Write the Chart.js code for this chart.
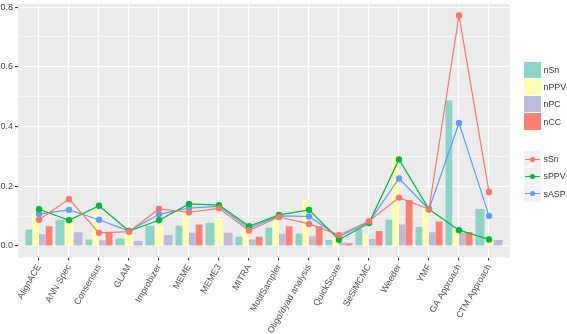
<!DOCTYPE html>
<html>
<head>
<meta charset="utf-8">
<script src="https://cdn.jsdelivr.net/npm/chart.js@4.4.0/dist/chart.umd.min.js"></script>
<style>
  html, body { margin: 0; padding: 0; background: #fff; }
  #wrap { position: relative; width: 567px; height: 334px; }
  .legend { position: absolute; left: 524px; font: 8.8px "Liberation Sans", Arial, sans-serif; color: #333; }
  .item { display: flex; align-items: center; height: 17.3px; }
  .key { position: relative; width: 17px; height: 16.3px; margin-right: 2.5px; }
  .key.line { background: #f2f2f2; }
  .key .ln { position: absolute; left: 1px; right: 1px; top: 7.5px; height: 1.2px; }
  .key .pt { position: absolute; left: 6px; top: 5.6px; width: 5px; height: 5px; border-radius: 50%; }
</style>
</head>
<body>
<div id="wrap">
  <canvas id="myChart" width="567" height="334"></canvas>
  <div class="legend" id="barLegend" style="top:61px"></div>
  <div class="legend" id="lineLegend" style="top:150.5px"></div>
</div>
<script>
const categories = ["AlignACE", "ANN-Spec", "Consensus", "GLAM", "Improbizer", "MEME", "MEME3", "MITRA",
  "MotifSampler", "Oligo/dyad analysis", "QuickScore", "SeSiMCMC", "Weeder", "YMF", "GA Approach", "CTM Approach"];

// nucleotide level (bars)
const nSn  = [0.055, 0.088, 0.022, 0.025, 0.068, 0.068, 0.078, 0.031, 0.061, 0.041, 0.020, 0.057, 0.088, 0.064, 0.487, 0.124];
const nPPV = [0.112, 0.086, 0.117, 0.039, 0.068, 0.110, 0.093, 0.055, 0.097, 0.154, 0.026, 0.039, 0.300, 0.127, 0.052, 0.017];
const nPC  = [0.039, 0.046, 0.019, 0.017, 0.037, 0.044, 0.044, 0.022, 0.041, 0.033, 0.012, 0.024, 0.072, 0.046, 0.044, 0.020];
const nCC  = [0.066, null, 0.044, null, null, 0.072, null, 0.031, 0.066, 0.066, 0.009, 0.050, 0.154, 0.082, 0.047, null];

// site level (lines)
const sSn  = [0.088, 0.157, 0.044, 0.048, 0.124, 0.113, 0.126, 0.052, 0.097, 0.074, 0.037, 0.083, 0.162, 0.123, 0.772, 0.181];
const sPPV = [0.123, 0.086, 0.135, 0.050, 0.086, 0.141, 0.137, 0.066, 0.104, 0.121, 0.021, 0.077, 0.290, 0.123, 0.053, 0.022];
const sASP = [0.107, 0.121, 0.088, 0.050, 0.106, 0.127, 0.133, 0.059, 0.101, 0.099, 0.032, 0.080, 0.226, 0.123, 0.412, 0.101];

const yTicks = [0, 0.1, 0.2, 0.3, 0.4, 0.5, 0.6, 0.7, 0.8];

const barSeries = [
  { label: "nSn", data: nSn, color: "#8DD3C7" },
  { label: "nPPV", data: nPPV, color: "#FFFFB3" },
  { label: "nPC", data: nPC, color: "#BEBADA" },
  { label: "nCC", data: nCC, color: "#FB8072" },
];
const lineSeries = [
  { label: "sSn", data: sSn, color: "#F8766D" },
  { label: "sPPV", data: sPPV, color: "#00BA38" },
  { label: "sASP", data: sASP, color: "#619CFF" },
];

const textColor = "#4D4D4D";
const font = { family: "'Liberation Sans', Arial, sans-serif", size: 9 };

// grey ggplot panel
const panelBg = {
  id: "panelBg",
  beforeDraw(chart) {
    const { ctx, chartArea: a } = chart;
    ctx.save();
    ctx.fillStyle = "#EBEBEB";
    ctx.fillRect(a.left, a.top, a.right - a.left, a.bottom - a.top);
    ctx.restore();
  },
};

const data = {
  labels: categories,
  datasets: [
    ...lineSeries.map((s) => ({
      type: "line",
      label: s.label,
      data: s.data,
      borderColor: s.color,
      backgroundColor: s.color,
      borderWidth: 1.2,
      pointRadius: 2.6,
      pointHoverRadius: 2.6,
      tension: 0,
      order: 1,
    })),
    ...barSeries.map((s) => ({
      type: "bar",
      label: s.label,
      data: s.data,
      backgroundColor: s.color,
      borderWidth: 0,
      barPercentage: 1,
      categoryPercentage: 0.9,
      skipNull: true,
      order: 2,
    })),
  ],
};

const config = {
  data: data,
  plugins: [panelBg],
  options: {
    responsive: false,
    animation: false,
    layout: { padding: { left: 0, top: 0, right: 57, bottom: 0 } },
    plugins: {
      legend: { display: false },
      tooltip: { enabled: false },
    },
    scales: {
      x: {
        type: "category",
        offset: true,
        border: { display: false },
        grid: {
          offset: false,
          color: "#FFFFFF",
          lineWidth: 1.1,
          tickColor: "#333333",
          tickLength: 3,
        },
        ticks: {
          color: textColor,
          font: font,
          autoSkip: false,
          minRotation: 60,
          maxRotation: 60,
          padding: 2,
        },
        afterBuildTicks: (scale) => {
          // ggplot discrete axis expands 0.6 units each side instead of 0.5
          if (!scale._expanded) {
            const base = scale.configure;
            scale.configure = function () {
              base.call(this);
              this._startValue -= 0.1;
              this._valueRange += 0.2;
            };
            scale._expanded = true;
          }
        },
        afterFit: (scale) => {
          scale.height = 76.5;
          scale.paddingLeft = 0;
          scale.paddingRight = 0;
        },
      },
      y: {
        min: -0.0385,
        max: 0.811,
        border: { display: false },
        afterBuildTicks: (scale) => {
          scale.ticks = yTicks.map((v) => ({ value: v }));
        },
        grid: {
          color: "#FFFFFF",
          lineWidth: (ctx) => (ctx.index % 2 === 0 ? 1.1 : 0.55),
          tickColor: (ctx) => (ctx.index % 2 === 0 ? "#333333" : "rgba(0,0,0,0)"),
          tickLength: 3,
        },
        ticks: {
          color: textColor,
          font: font,
          padding: 2,
          callback: (value, index) => (index % 2 === 0 ? value.toFixed(1) : ""),
        },
        afterFit: (scale) => {
          scale.width = 18;
          scale.paddingTop = 0;
          scale.paddingBottom = 0;
        },
      },
    },
  },
};

function buildLegend() {
  const barBox = document.getElementById("barLegend");
  barSeries.forEach((s) => {
    const item = document.createElement("div");
    item.className = "item";
    item.innerHTML = '<span class="key" style="background:' + s.color + '"></span><span>' + s.label + "</span>";
    barBox.appendChild(item);
  });
  const lineBox = document.getElementById("lineLegend");
  lineSeries.forEach((s) => {
    const item = document.createElement("div");
    item.className = "item";
    item.innerHTML =
      '<span class="key line"><span class="ln" style="background:' + s.color + '"></span>' +
      '<span class="pt" style="background:' + s.color + '"></span></span><span>' + s.label + "</span>";
    lineBox.appendChild(item);
  });
}

document.addEventListener("DOMContentLoaded", () => {
  buildLegend();
  const ctx = document.getElementById("myChart").getContext("2d");
  new Chart(ctx, config);
});
</script>
</body>
</html>
